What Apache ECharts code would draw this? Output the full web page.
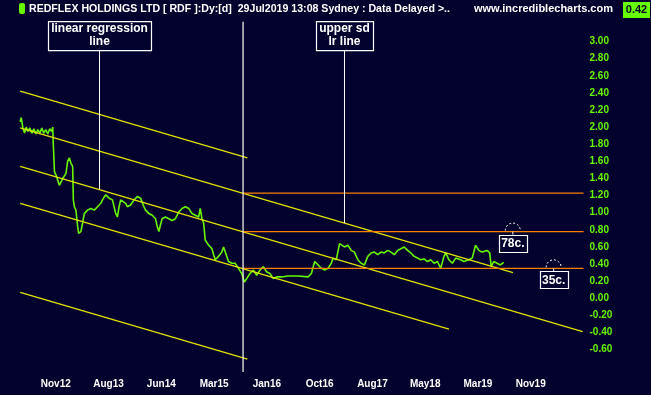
<!DOCTYPE html>
<html><head><meta charset="utf-8">
<script src="https://cdn.jsdelivr.net/npm/echarts@6/dist/echarts.min.js"></script>
<style>html,body{margin:0;padding:0;background:#03022f;}#c{width:651px;height:395px;}</style>
</head><body><div id="c"></div>
<script>
// x positions are in units of the chart's date-label spacing (0 = Nov12, 1 = Aug13, ...)
const xTickLabels = ['Nov12','Aug13','Jun14','Mar15','Jan16','Oct16','Aug17','May18','Mar19','Nov19'];

const priceX = [-0.674,-0.655,-0.623,-0.591,-0.561,-0.529,-0.491,-0.453,-0.416,-0.378,
-0.340,-0.303,-0.265,-0.227,-0.189,-0.152,-0.114,-0.076,-0.057,-0.052,
-0.025,0.005,0.069,0.131,0.193,0.225,0.257,0.287,0.320,0.333,
0.352,0.382,0.414,0.433,0.476,0.508,0.540,0.602,0.664,0.729,
0.791,0.853,0.885,0.947,1.011,1.074,1.136,1.168,1.200,1.230,
1.262,1.324,1.356,1.418,1.483,1.545,1.607,1.639,1.671,1.701,
1.765,1.828,1.890,1.922,1.954,1.984,2.016,2.078,2.142,2.205,
2.267,2.299,2.331,2.393,2.455,2.487,2.519,2.582,2.644,2.708,
2.738,2.770,2.802,2.832,2.896,2.959,2.991,3.021,3.085,3.147,
3.179,3.209,3.241,3.273,3.336,3.398,3.462,3.524,3.575,3.618,
3.680,3.745,3.807,3.869,3.933,3.995,4.058,4.122,4.184,4.278,
4.404,4.593,4.781,4.844,4.906,4.970,5.032,5.094,5.158,5.221,
5.253,5.315,5.377,5.409,5.471,5.535,5.598,5.660,5.724,5.786,
5.848,5.912,5.975,6.037,6.101,6.163,6.225,6.289,6.352,6.414,
6.478,6.540,6.602,6.666,6.729,6.791,6.855,6.917,6.979,7.043,
7.106,7.168,7.232,7.294,7.356,7.388,7.451,7.515,7.577,7.671,
7.733,7.828,7.892,7.954,8.016,8.080,8.174,8.224,8.250,8.299,
8.363,8.425,8.487];

const priceClose = [2.06,2.11,1.99,1.93,2.00,1.95,1.99,1.93,1.98,1.92,
1.97,1.93,1.99,1.93,1.97,1.92,1.98,1.95,2.00,1.88,
1.48,1.44,1.32,1.40,1.46,1.60,1.64,1.58,1.54,1.15,
1.07,1.03,0.84,0.76,0.78,0.88,0.99,1.03,1.05,1.03,
1.07,1.11,1.15,1.21,1.17,1.15,0.99,0.95,1.07,1.15,
1.17,1.11,1.07,1.09,1.15,1.19,1.17,1.19,1.07,1.03,
0.99,0.97,0.93,0.84,0.78,0.86,0.93,0.95,0.93,0.91,
0.93,0.97,1.01,1.05,1.07,1.09,1.05,0.99,0.97,0.95,
1.05,0.93,0.88,0.68,0.62,0.58,0.51,0.45,0.49,0.54,
0.60,0.58,0.49,0.43,0.41,0.41,0.35,0.29,0.19,0.23,
0.29,0.33,0.27,0.33,0.37,0.31,0.29,0.23,0.25,0.25,
0.26,0.26,0.25,0.29,0.43,0.39,0.35,0.33,0.35,0.41,
0.47,0.45,0.64,0.66,0.60,0.62,0.56,0.54,0.45,0.41,
0.39,0.49,0.53,0.54,0.51,0.54,0.53,0.56,0.54,0.51,
0.56,0.58,0.60,0.56,0.53,0.49,0.47,0.45,0.46,0.43,
0.45,0.41,0.43,0.35,0.49,0.53,0.45,0.41,0.47,0.45,
0.43,0.45,0.47,0.62,0.56,0.54,0.56,0.53,0.37,0.43,
0.41,0.39,0.42];

// regression channel lines: upper 2sd, upper sd, linear regression, lower sd, lower 2sd
const channelStartX = [-0.674,-0.674,-0.674,-0.674,-0.674];
const channelStartY = [2.42, 1.99, 1.54, 1.11, 0.07];
const channelEndX   = [3.631, 8.664, 9.984, 7.451, 3.631];
const channelEndY   = [1.64, 0.30, -0.39, -0.36, -0.71];

// horizontal price levels
const levelValues = [1.23, 0.78, 0.35];
const levelStartX = 3.549, levelEndX = 10;

// vertical marker line
const markerX = 3.549, markerTop = 3.23, markerBottom = -0.86;

// annotation pointers
const pointerText = ['linear regression\nline', 'upper sd\nlr line'];
const pointerX = [0.829, 5.471];
const pointerTop = 2.90;
const pointerBottom = [1.27, 0.88];

// price tags
const tagText = ['78c.', '35c.'];
const tagX = [8.661, 9.434];
const tagValue = [0.78, 0.35];

const BG = '#03022f';
const GREEN = '#66f700';
const YELLOW = '#e4e200';
const ORANGE = '#ff8000';
const FONT = '"Liberation Sans", Arial, sans-serif';

const chart = echarts.init(document.getElementById('c'));

const series = [];
series.push({type:'line', data: priceX.map((x,i)=>[x, priceClose[i]]), showSymbol:false, symbol:'none',
  lineStyle:{color:GREEN, width:1.6}, z:2});
for (let i=0;i<channelStartX.length;i++){
  series.push({type:'line', data:[[channelStartX[i],channelStartY[i]],[channelEndX[i],channelEndY[i]]],
    symbol:'none', lineStyle:{color:YELLOW, width:1.3}, z:3});
}
levelValues.forEach(v=>{
  series.push({type:'line', data:[[levelStartX,v],[levelEndX,v]], symbol:'none', lineStyle:{color:ORANGE, width:1.2}, z:3});
});
series.push({type:'line', data:[[markerX,markerTop],[markerX,markerBottom]], symbol:'none', clip:false,
  lineStyle:{color:'#fffff2', width:1.2}, z:4});
pointerX.forEach((x,i)=>{
  series.push({type:'line', data:[[x,pointerTop],[x,pointerBottom[i]]], symbol:'none', lineStyle:{color:'#ffffff', width:1}, z:4});
});

chart.setOption({
  backgroundColor: BG,
  animation:false,
  grid:{left:0, right:67.5, top:24.4, bottom:28.2},
  xAxis:{type:'value', min:-1, max:10, interval:1,
    axisLine:{show:false}, axisTick:{show:false}, splitLine:{show:false},
    axisLabel:{color:'#ffffff', fontFamily:FONT, fontWeight:'bold', fontSize:10, margin:12,
      showMinLabel:true, showMaxLabel:true,
      formatter: v => xTickLabels[Math.round(v)] || ''}},
  yAxis:{type:'value', position:'right', min:-0.8, max:3.2, interval:0.2,
    axisLine:{show:false}, axisTick:{show:false}, splitLine:{show:false},
    axisLabel:{color:GREEN, fontFamily:FONT, fontWeight:'bold', fontSize:10, margin:6,
      formatter: v => (v < -0.61 || v > 3.01) ? '' : v.toFixed(2)}},
  series: series
});

// annotations (boxes, tags, header)
const g = [];
g.push({type:'rect', shape:{x:19, y:3, width:6, height:11, r:2}, style:{fill:GREEN}});
g.push({type:'text', x:29, y:9, style:{text:'REDFLEX HOLDINGS LTD [ RDF ]:Dy:[d]  29Jul2019 13:08 Sydney : Data Delayed >..',
  fill:'#ffffff', font:'bold 10.6px "Liberation Sans Narrow", "Liberation Sans", Arial', verticalAlign:'middle'}});
g.push({type:'text', x:474, y:9, style:{text:'www.incrediblecharts.com', fill:'#ffffff',
  font:'bold 11px "Liberation Sans", Arial', verticalAlign:'middle'}});
g.push({type:'rect', shape:{x:623, y:2, width:27, height:16}, style:{fill:'#66ff00'}});
g.push({type:'text', x:636.5, y:10, style:{text:priceClose[priceClose.length-1].toFixed(2), fill:'#04022a',
  font:'bold 11px "Liberation Sans", Arial', align:'center', verticalAlign:'middle'}});

const boxW = [103, 57];
pointerX.forEach((x,i)=>{
  const p = chart.convertToPixel({xAxisIndex:0, yAxisIndex:0}, [x, pointerTop]);
  const w = boxW[i], h = 29;
  g.push({type:'rect', shape:{x:Math.round(p[0]-w/2)+0.5, y:p[1]-h+0.5, width:w, height:h},
    style:{fill:BG, stroke:'#ffffff', lineWidth:1.2}, z:10});
  g.push({type:'text', x:p[0], y:p[1]-h/2, style:{text:pointerText[i], fill:'#ffffff',
    font:'bold 12px "Liberation Sans", Arial', align:'center', verticalAlign:'middle', lineHeight:13}, z:11});
});

tagX.forEach((x,i)=>{
  const p = chart.convertToPixel({xAxisIndex:0, yAxisIndex:0}, [x, tagValue[i]]);
  g.push({type:'arc', shape:{cx:p[0], cy:p[1]-1, r:7.5, startAngle:Math.PI, endAngle:2*Math.PI},
    style:{stroke:'#ffffff', lineWidth:1, lineDash:[2,2], fill:null}, z:10});
  g.push({type:'line', shape:{x1:p[0], y1:p[1], x2:p[0], y2:p[1]+3}, style:{stroke:'#ffffff', lineWidth:1}, z:10});
  g.push({type:'rect', shape:{x:Math.round(p[0]-14)+0.5, y:Math.round(p[1]+3)+0.5, width:28, height:17},
    style:{fill:BG, stroke:'#ffffff', lineWidth:1.2}, z:10});
  g.push({type:'text', x:p[0], y:p[1]+12, style:{text:tagText[i], fill:'#ffffff',
    font:'bold 12px "Liberation Sans", Arial', align:'center', verticalAlign:'middle'}, z:11});
});

chart.setOption({graphic: g});
</script>
</body></html>
